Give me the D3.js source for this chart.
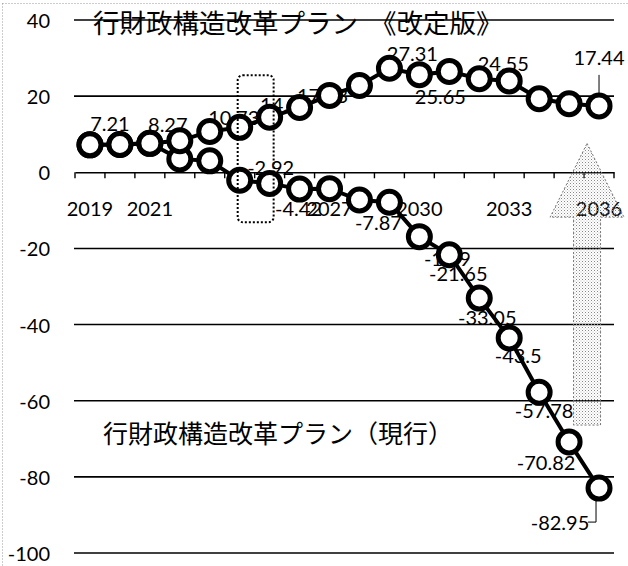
<!DOCTYPE html>
<html>
<head>
<meta charset="utf-8">
<script src="https://cdn.jsdelivr.net/npm/d3@7"></script>
<style>
  body { margin: 0; background: #fff; }
  #chart { width: 628px; height: 566px; }
  .num { font-family: Lato, "Open Sans", sans-serif; font-size: 20px; fill: #000; }
  .jp { font-family: "Noto Sans CJK JP", sans-serif; fill: #000; }
</style>
</head>
<body>
<div id="chart"></div>
<script>
const years = [2019, 2020, 2021, 2022, 2023, 2024, 2025, 2026, 2027, 2028, 2029, 2030, 2031, 2032, 2033, 2034, 2035, 2036];
const revisedPlan = [7.21, 7.3, 7.6, 8.27, 10.73, 11.8, 14.45, 17.03, 20.2, 22.8, 27.31, 25.65, 26.5, 24.55, 24.0, 19.3, 18.0, 17.44];
const currentPlan = [7.21, 7.3, 7.6, 3.5, 3.0, -2.1, -2.92, -4.42, -4.3, -7.3, -7.87, -16.9, -21.65, -33.05, -43.5, -57.78, -70.82, -82.95];
const yTicks = [40, 20, 0, -20, -40, -60, -80, -100];
const xTickLabels = [2019, 2021, 2027, 2030, 2033, 2036];
const revisedLabelIdx = [0, 3, 4, 6, 7, 10, 11, 13, 17];
const currentLabelIdx = [6, 7, 10, 11, 12, 13, 14, 15, 16, 17];
const revisedTitle = ["行財政構造改革プラン", "《改定版》"];
const currentTitle = "行財政構造改革プラン（現行）";

// label offsets from their point (layout only)
const revisedOffsets = { 0: [20, -22], 3: [-12, -17], 4: [24, -14], 6: [16, -13], 7: [23, -12], 10: [23, -15], 11: [21, 21], 13: [24, -16], 17: [0, -49] };
const currentOffsets = { 6: [1, -16], 7: [-1, 19], 10: [-11, 20], 11: [28, 21], 12: [9, 18], 13: [8, 19], 14: [9, 17], 15: [5, 18], 16: [-23, 20], 17: [-39, 34] };

const drawChart = () => {
    const svg = d3.select("#chart")
        .append("svg")
        .attr("width", 628)
        .attr("height", 566);

    // Set up scales
    const x = d3.scaleBand().domain(years).range([75, 614]);
    const cx = (yr) => x(yr) + x.bandwidth() / 2;
    const y = d3.scaleLinear().domain([-100, 40]).range([553, 20]);

    // dotted frame
    svg.append("rect")
        .attr("x", 2.5).attr("y", 3.5)
        .attr("width", 700).attr("height", 700)
        .attr("fill", "none")
        .attr("stroke", "#999")
        .attr("stroke-dasharray", "1,2");

    // Add gridlines
    svg.append("g")
        .selectAll("line")
        .data(yTicks.filter((d) => d !== 0))
        .join("line")
        .attr("x1", 74).attr("x2", 614)
        .attr("y1", (d) => y(d)).attr("y2", (d) => y(d))
        .attr("stroke", "#000")
        .attr("stroke-width", 1.6);

    // y labels
    svg.append("g")
        .selectAll("text")
        .data(yTicks)
        .join("text")
        .attr("class", "num")
        .attr("x", 50)
        .attr("y", (d) => y(d))
        .attr("text-anchor", "end")
        .attr("dominant-baseline", "central")
        .text((d) => d);

    // x axis at zero
    const xAxis = d3.axisBottom(x).tickValues([]).tickSizeOuter(0);
    svg.append("g")
        .attr("transform", `translate(0,${y(0)})`)
        .call(xAxis)
        .call((g) => g.select(".domain").attr("stroke", "#000").attr("stroke-width", 1.6));

    svg.append("g")
        .selectAll("line")
        .data(years.concat(["end"]))
        .join("line")
        .attr("x1", (d) => (d === "end" ? 614 : x(d)))
        .attr("x2", (d) => (d === "end" ? 614 : x(d)))
        .attr("y1", y(0)).attr("y2", y(0) + 6)
        .attr("stroke", "#000")
        .attr("stroke-width", 1.4);

    svg.append("g")
        .selectAll("text")
        .data(xTickLabels)
        .join("text")
        .attr("class", "num")
        .attr("x", (d) => cx(d))
        .attr("y", y(0) + 36)
        .attr("text-anchor", "middle")
        .attr("dominant-baseline", "central")
        .text((d) => d);

    // stipple pattern for the arrow
    const pat = svg.append("defs")
        .append("pattern")
        .attr("id", "dots")
        .attr("width", 3).attr("height", 3)
        .attr("patternUnits", "userSpaceOnUse");
    pat.append("rect").attr("x", 0).attr("y", 0).attr("width", 1).attr("height", 1).attr("fill", "#888");
    pat.append("rect").attr("x", 1.5).attr("y", 1.5).attr("width", 1).attr("height", 1).attr("fill", "#bbb");

    // Add the up arrow at 2036
    const ac = cx(2036) - x.bandwidth() * 0.4;
    const ap = d3.path();
    ap.moveTo(ac, y(7.6));
    ap.lineTo(ac + 37, y(-11.8));
    ap.lineTo(ac + 13.5, y(-11.8));
    ap.lineTo(ac + 13.5, y(-66.4));
    ap.lineTo(ac - 13.5, y(-66.4));
    ap.lineTo(ac - 13.5, y(-11.8));
    ap.lineTo(ac - 37, y(-11.8));
    ap.closePath();
    svg.append("path")
        .attr("d", ap.toString())
        .attr("fill", "url(#dots)")
        .attr("stroke", "#777")
        .attr("stroke-width", 1)
        .attr("stroke-dasharray", "2,2");

    // data labels (under the markers)
    const addLabels = (values, idx, offsets) => {
        svg.append("g")
            .selectAll("text")
            .data(idx)
            .join("text")
            .attr("class", "num")
            .attr("x", (i) => cx(years[i]) + offsets[i][0])
            .attr("y", (i) => y(values[i]) + offsets[i][1])
            .attr("text-anchor", "middle")
            .attr("dominant-baseline", "central")
            .text((i) => values[i]);
    };
    addLabels(revisedPlan, revisedLabelIdx, revisedOffsets);
    addLabels(currentPlan, currentLabelIdx, currentOffsets);

    // leader lines
    const last = years.length - 1;
    svg.append("line")
        .attr("x1", cx(years[last])).attr("x2", cx(years[last]))
        .attr("y1", y(revisedPlan[last]) - 31).attr("y2", y(revisedPlan[last]) - 6)
        .attr("stroke", "#000").attr("stroke-width", 1);
    svg.append("path")
        .attr("d", `M${cx(years[last]) - 3},${y(currentPlan[last]) + 12}V${y(currentPlan[last]) + 34}H${cx(years[last]) - 11}`)
        .attr("fill", "none")
        .attr("stroke", "#000").attr("stroke-width", 1);

    // Add lines
    const line = d3.line()
        .x((d, i) => cx(years[i]))
        .y((d) => y(d));

    [currentPlan, revisedPlan].forEach((series) => {
        svg.append("path")
            .datum(series)
            .attr("fill", "none")
            .attr("stroke", "#000")
            .attr("stroke-width", 4)
            .attr("d", line);
    });

    // markers
    [currentPlan, revisedPlan].forEach((series) => {
        svg.append("g")
            .selectAll("circle")
            .data(series)
            .join("circle")
            .attr("cx", (d, i) => cx(years[i]))
            .attr("cy", (d) => y(d))
            .attr("r", 11)
            .attr("fill", "#fff")
            .attr("stroke", "#000")
            .attr("stroke-width", 5);
    });

    // dotted box around 2024-2025
    svg.append("rect")
        .attr("x", cx(2024) - 2)
        .attr("y", y(25.5))
        .attr("width", cx(2025) - cx(2024) + 6)
        .attr("height", y(-13.1) - y(25.5))
        .attr("rx", 5)
        .attr("fill", "none")
        .attr("stroke", "#000")
        .attr("stroke-width", 2)
        .attr("stroke-dasharray", "2,2");

    // titles
    svg.append("text")
        .attr("class", "jp")
        .attr("x", 93).attr("y", 33)
        .attr("font-size", "26.5px")
        .text(revisedTitle[0]);
    svg.append("text")
        .attr("class", "jp")
        .attr("x", 370).attr("y", 33)
        .attr("font-size", "26.5px")
        .text(revisedTitle[1]);
    svg.append("text")
        .attr("class", "jp")
        .attr("x", 103).attr("y", 443)
        .attr("font-size", "25px")
        .text(currentTitle);
};

document.addEventListener("DOMContentLoaded", drawChart);
</script>
</body>
</html>
